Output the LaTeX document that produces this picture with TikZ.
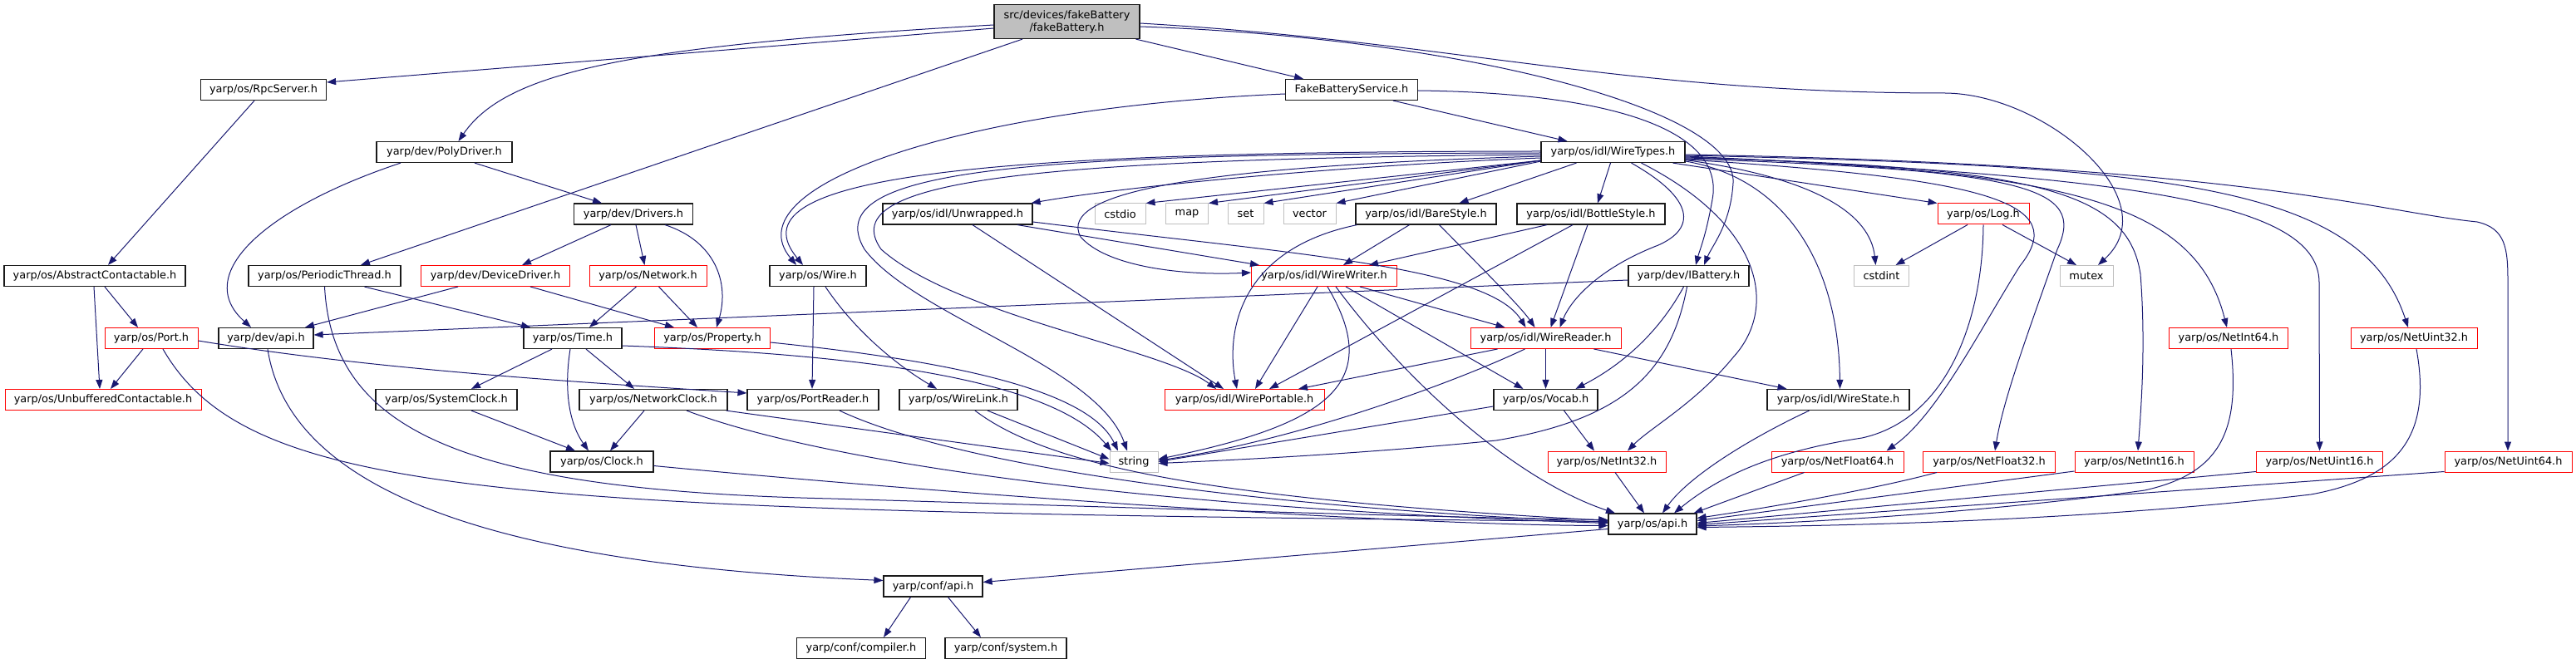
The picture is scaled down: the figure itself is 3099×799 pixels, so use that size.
\documentclass[tikz,border=0pt]{standalone}
\usepackage{fontspec}
\setmainfont{DejaVu Sans}
\usetikzlibrary{arrows.meta}
\definecolor{edgec}{HTML}{191970}
\definecolor{grayfill}{HTML}{BFBFBF}
\definecolor{sysborder}{HTML}{BFBFBF}
\definecolor{redborder}{HTML}{FF0000}
\definecolor{boxborder}{HTML}{1A1A1A}
\begin{document}
\begin{tikzpicture}[x=1pt,y=-1pt,
  box/.style={rectangle, inner sep=0pt, minimum height=25pt, fill=white, font=\fontsize{12.9pt}{15pt}\selectfont},
  nb/.style={box, draw=boxborder, line width=1.2pt},
  nr/.style={box, draw=redborder, line width=1pt},
  ng/.style={box, draw=sysborder, line width=1pt},
  e/.style={draw=edgec, line width=1pt, -{Triangle[length=11pt,width=8pt]}},
]
\useasboundingbox (0,0) rectangle (3099,799);

% ---------- nodes ----------
\node[nb, fill=grayfill, minimum width=175pt, minimum height=41pt, align=center] (fb) at (1283.5,26) {src/devices/fakeBattery\\/fakeBattery.h};
\node[nb, minimum width=151pt] (rpc) at (317,108) {yarp/os/RpcServer.h};
\node[nb, minimum width=159pt] (fbs) at (1626,108) {FakeBatteryService.h};
\node[nb, minimum width=163pt] (poly) at (534.5,183) {yarp/dev/PolyDriver.h};
\node[nb, minimum width=173pt] (wt) at (1940.5,183) {yarp/os/idl/WireTypes.h};
\node[nb, minimum width=143pt] (drv) at (762,257.5) {yarp/dev/Drivers.h};
\node[nb, minimum width=180pt] (unw) at (1152,257.5) {yarp/os/idl/Unwrapped.h};
\node[ng, minimum width=61pt] (cstdio) at (1347.5,257.5) {cstdio};
\node[ng, minimum width=51pt] (nmap) at (1428,257.5) {map};
\node[ng, minimum width=43pt] (nset) at (1498.5,257.5) {set};
\node[ng, minimum width=63pt] (nvector) at (1575.5,257.5) {vector};
\node[nb, minimum width=169pt] (bare) at (1715.5,257.5) {yarp/os/idl/BareStyle.h};
\node[nb, minimum width=178pt] (bottle) at (1914,257.5) {yarp/os/idl/BottleStyle.h};
\node[nr, minimum width=110pt] (log) at (2386,257.5) {yarp/os/Log.h};
\node[nb, minimum width=218pt] (abs) at (114,332) {yarp/os/AbstractContactable.h};
\node[nb, minimum width=183pt] (per) at (390.5,332) {yarp/os/PeriodicThread.h};
\node[nr, minimum width=179pt] (dd) at (596,332) {yarp/dev/DeviceDriver.h};
\node[nr, minimum width=141pt] (net) at (779.5,332) {yarp/os/Network.h};
\node[nb, minimum width=116pt] (wire) at (984,332) {yarp/os/Wire.h};
\node[nr, minimum width=175pt] (ww) at (1593,332) {yarp/os/idl/WireWriter.h};
\node[nb, minimum width=145pt] (ibat) at (2031.5,332) {yarp/dev/IBattery.h};
\node[ng, minimum width=66pt] (cstdint) at (2263.5,332) {cstdint};
\node[ng, minimum width=64pt] (nmutex) at (2510,332) {mutex};
\node[nr, minimum width=112pt] (port) at (182,407) {yarp/os/Port.h};
\node[nb, minimum width=114pt] (devapi) at (320,407) {yarp/dev/api.h};
\node[nb, minimum width=118pt] (time) at (689,407) {yarp/os/Time.h};
\node[nr, minimum width=139pt] (prop) at (857,407) {yarp/os/Property.h};
\node[nr, minimum width=181pt] (wr) at (1859.5,407) {yarp/os/idl/WireReader.h};
\node[nr, minimum width=143pt] (ni64) at (2681,407) {yarp/os/NetInt64.h};
\node[nr, minimum width=152pt] (nu32) at (2904,407) {yarp/os/NetUint32.h};
\node[nr, minimum width=236pt] (unb) at (124,481) {yarp/os/UnbufferedContactable.h};
\node[nb, minimum width=170pt] (sysclk) at (537,481) {yarp/os/SystemClock.h};
\node[nb, minimum width=178pt] (netclk) at (786,481) {yarp/os/NetworkClock.h};
\node[nb, minimum width=158pt] (pr) at (978,481) {yarp/os/PortReader.h};
\node[nb, minimum width=142pt] (wl) at (1153,481) {yarp/os/WireLink.h};
\node[nr, minimum width=192pt] (wp) at (1497,481) {yarp/os/idl/WirePortable.h};
\node[nb, minimum width=125pt] (vocab) at (1859.5,481) {yarp/os/Vocab.h};
\node[nb, minimum width=171pt] (ws) at (2211.5,481) {yarp/os/idl/WireState.h};
\node[nb, minimum width=124pt] (clock) at (724,555.5) {yarp/os/Clock.h};
\node[ng, minimum width=58pt] (str) at (1364,555.5) {string};
\node[nr, minimum width=142pt] (ni32) at (1933,555.5) {yarp/os/NetInt32.h};
\node[nr, minimum width=159pt] (nf64) at (2210.5,555.5) {yarp/os/NetFloat64.h};
\node[nr, minimum width=159pt] (nf32) at (2393,555.5) {yarp/os/NetFloat32.h};
\node[nr, minimum width=143pt] (ni16) at (2567.5,555.5) {yarp/os/NetInt16.h};
\node[nr, minimum width=152pt] (nu16) at (2790.5,555.5) {yarp/os/NetUint16.h};
\node[nr, minimum width=153pt] (nu64) at (3017.5,555.5) {yarp/os/NetUint64.h};
\node[nb, minimum width=106pt] (osapi) at (1988,630.5) {yarp/os/api.h};
\node[nb, minimum width=119pt] (confapi) at (1122.5,705.5) {yarp/conf/api.h};
\node[nb, minimum width=155pt] (comp) at (1036,780) {yarp/conf/compiler.h};
\node[nb, minimum width=146pt] (sys) at (1210,780) {yarp/conf/system.h};

% ---------- edges ----------
% fakeBattery.h
\draw[e] ([yshift=-8pt]fb.west) -- ([yshift=9pt]rpc.east);
\draw[e] ([yshift=-4pt]fb.west) .. controls (760,55) and (610,85) .. ([xshift=17pt]poly.north);
\draw[e] ([xshift=-53.5pt]fb.south) -- ([xshift=43.5pt]per.north);
\draw[e] ([xshift=83pt]fb.south) -- ([xshift=-58pt]fbs.north);
\draw[e] ([yshift=-6pt]fb.east) .. controls (1750,45) and (2090,130) .. (2085,220) .. controls (2082,270) and (2060,295) .. ([xshift=18.5pt]ibat.north);
\draw[e] ([yshift=-2pt]fb.east) .. controls (1750,50) and (1950,112) .. (2340,112) .. controls (2460,113) and (2610,240) .. ([xshift=14pt]nmutex.north);
% FakeBatteryService.h
\draw[e] ([xshift=50pt]fbs.south) -- ([xshift=-55pt]wt.north);
\draw[e] ([yshift=-5pt]fbs.west) .. controls (1150,130) and (880,225) .. ([xshift=-26pt]wire.north);
\draw[e] ([yshift=-1pt]fbs.east) .. controls (1950,112) and (2075,160) .. (2060,240) .. controls (2052,285) and (2045,300) .. ([xshift=8.5pt]ibat.north);
% PolyDriver.h
\draw[e] ([xshift=36.5pt]poly.south) -- ([xshift=-38pt]drv.north);
\draw[e] ([xshift=-52.5pt]poly.south) .. controls (320,250) and (230,330) .. ([xshift=-18pt]devapi.north);
% RpcServer.h
\draw[e] ([xshift=-11pt]rpc.south) -- ([xshift=16pt]abs.north);
% Drivers.h
\draw[e] ([xshift=-27pt]drv.south) -- ([xshift=32pt]dd.north);
\draw[e] ([xshift=3pt]drv.south) -- ([xshift=-4pt]net.north);
\draw[e] ([xshift=38pt]drv.south) .. controls (860,290) and (878,340) .. ([xshift=5pt]prop.north);
% AbstractContactable.h
\draw[e] ([xshift=12pt]abs.south) -- ([xshift=-16pt]port.north);
\draw[e] ([xshift=-1pt]abs.south) -- ([xshift=-4pt]unb.north);
% Port.h
\draw[e] ([xshift=-10pt]port.south) -- ([xshift=9pt]unb.north);
\draw[e] ([yshift=-3pt]port.east) .. controls (450,445) and (700,460) .. ([yshift=8pt]pr.west);
\draw[e] ([xshift=14pt]port.south) .. controls (300,600) and (600,615) .. ([yshift=3pt]osapi.west);
% dev/api.h
\draw[e] ([xshift=2pt]devapi.south) .. controls (350,600) and (620,680) .. ([yshift=7pt]confapi.west);
% PeriodicThread.h
\draw[e] ([xshift=48pt]per.south) -- ([xshift=-51pt]time.north);
\draw[e] (per.south) .. controls (400,520) and (560,590) .. (1000,600) .. controls (1400,612) and (1700,622) .. ([yshift=5pt]osapi.west);
% DeviceDriver.h
\draw[e] ([xshift=-45pt]dd.south) -- ([xshift=47pt]devapi.north);
\draw[e] ([xshift=42pt]dd.south) -- ([xshift=-46pt]prop.north);
% Network.h
\draw[e] ([xshift=-14pt]net.south) -- ([xshift=20pt]time.north);
\draw[e] ([xshift=13pt]net.south) -- ([xshift=-18pt]prop.north);
% Time.h
\draw[e] ([xshift=-25pt]time.south) -- ([xshift=30pt]sysclk.north);
\draw[e] ([xshift=-3pt]time.south) .. controls (678,470) and (685,510) .. ([xshift=-16pt]clock.north);
\draw[e] ([xshift=16pt]time.south) -- ([xshift=-23pt]netclk.north);
\draw[e] ([yshift=-9pt]time.east) .. controls (1000,425) and (1260,450) .. ([xshift=-27pt]str.north);
% Property.h
\draw[e] ([yshift=-5pt]prop.east) .. controls (1150,435) and (1310,470) .. ([xshift=-19pt]str.north);
% SystemClock.h / NetworkClock.h / Clock.h
\draw[e] ([xshift=30pt]sysclk.south) -- ([xshift=-32pt]clock.north);
\draw[e] ([xshift=-11pt]netclk.south) -- ([xshift=10pt]clock.north);
\draw[e] ([xshift=-2pt]netclk.south east) -- ([yshift=-2pt]str.west);
\draw[e] ([xshift=40pt]netclk.south) .. controls (1000,560) and (1400,612) .. ([yshift=1pt]osapi.west);
\draw[e] ([yshift=-5pt]clock.east) .. controls (1200,600) and (1700,632) .. ([yshift=-2pt]osapi.west);
% PortReader.h / WireLink.h / Wire.h
\draw[e] ([xshift=32pt]pr.south) .. controls (1150,560) and (1500,610) .. ([yshift=2pt]osapi.west);
\draw[e] ([xshift=20pt]wl.south) .. controls (1260,560) and (1450,600) .. ([yshift=4pt]osapi.west);
\draw[e] ([xshift=35pt]wl.south) -- ([yshift=3pt]str.west);
\draw[e] ([xshift=-5pt]wire.south) -- ([xshift=-1pt]pr.north);
\draw[e] ([xshift=9pt]wire.south) .. controls (1030,400) and (1080,440) .. ([xshift=-26pt]wl.north);
% IBattery.h
\draw[e] ([yshift=-5pt]ibat.west) -- ([yshift=4pt]devapi.east);
\draw[e] ([xshift=-6pt]ibat.south) .. controls (1990,410) and (1940,445) .. ([xshift=36pt]vocab.north);
\draw[e] ([xshift=-2pt]ibat.south) .. controls (2010,450) and (1950,505) .. (1800,530) .. controls (1650,545) and (1500,553) .. ([yshift=-2pt]str.east);
% WireWriter.h
\draw[e] ([xshift=43pt]ww.south) -- ([xshift=-49pt]wr.north);
\draw[e] ([xshift=-8pt]ww.south) -- ([xshift=13pt]wp.north);
\draw[e] ([xshift=4pt]ww.south) .. controls (1665,460) and (1600,510) .. ([yshift=3pt]str.east);
\draw[e] ([xshift=26pt]ww.south) -- ([xshift=-27pt]vocab.north);
\draw[e] ([xshift=14pt]ww.south) .. controls (1700,470) and (1830,580) .. ([xshift=-45pt]osapi.north);
% WireReader.h
\draw[e] (wr.south) -- (vocab.north);
\draw[e] ([xshift=58pt]wr.south) -- ([xshift=-62pt]ws.north);
\draw[e] ([xshift=-25pt]wr.south) .. controls (1750,460) and (1560,530) .. ([yshift=1.5pt]str.east);
\draw[e] ([xshift=-58pt]wr.south) -- ([xshift=65pt]wp.north);
% Vocab.h
\draw[e] ([yshift=-8pt]vocab.west) -- (str.east);
\draw[e] ([xshift=22pt]vocab.south) -- ([xshift=-15pt]ni32.north);
% WireState.h / NetInt32.h
\draw[e] ([xshift=-35pt]ws.south) .. controls (2100,530) and (2030,575) .. ([xshift=12pt]osapi.north);
\draw[e] ([xshift=10pt]ni32.south) -- ([xshift=-10pt]osapi.north);
% Log.h
\draw[e] ([xshift=-19pt]log.south) -- ([xshift=17pt]cstdint.north);
\draw[e] ([xshift=23pt]log.south) -- ([xshift=-12pt]nmutex.north);
\draw[e] (log.south) .. controls (2385,390) and (2340,505) .. (2240,527) .. controls (2120,545) and (2060,580) .. ([xshift=26pt]osapi.north);
% Net*.h
\draw[e] ([xshift=-40pt]nf64.south) -- ([xshift=-4pt]osapi.north east);
\draw[e] ([xshift=-63pt]nf32.south) .. controls (2250,590) and (2120,612) .. ([yshift=7pt]osapi.east);
\draw[e] ([yshift=1.5pt]ni16.south west) -- ([yshift=4pt]osapi.east);
\draw[e] ([yshift=1pt]nu16.south west) -- ([yshift=1pt]osapi.east);
\draw[e] ([yshift=1pt]nu64.south west) -- ([yshift=-1pt]osapi.east);
\draw[e] ([xshift=3pt]ni64.south) .. controls (2695,520) and (2670,570) .. (2580,590) .. controls (2400,615) and (2200,628) .. ([yshift=-2.5pt]osapi.east);
\draw[e] ([xshift=3pt]nu32.south) .. controls (2925,520) and (2890,575) .. (2780,595) .. controls (2500,628) and (2200,633) .. ([yshift=-4pt]osapi.east);
% os/api.h, conf/api.h
\draw[e] ([yshift=-6pt]osapi.west) -- ([yshift=5pt]confapi.east);
\draw[e] ([xshift=-27pt]confapi.south) -- ([xshift=27pt]comp.north);
\draw[e] ([xshift=18pt]confapi.south) -- ([xshift=-30pt]sys.north);
% WireTypes.h
\draw[e] ([yshift=1pt]wt.west) .. controls (1150,182) and (880,215) .. ([xshift=-18pt]wire.north);
\draw[e] ([yshift=-1pt]wt.west) .. controls (1250,185) and (980,200) .. (1040,300) .. controls (1100,380) and (1320,440) .. ([xshift=-8pt]str.north);
\draw[e] ([yshift=-3pt]wt.west) .. controls (1250,192) and (1000,215) .. (1060,300) .. controls (1150,380) and (1400,420) .. ([xshift=-34pt]wp.north);
\draw[e] ([yshift=-5pt]wt.west) .. controls (1450,200) and (1270,230) .. (1300,285) .. controls (1330,320) and (1420,332) .. ([yshift=4pt]ww.west);
\draw[e] ([yshift=-7pt]wt.west) .. controls (1600,200) and (1350,225) .. ([xshift=-2pt]unw.north east);
\draw[e] ([yshift=3pt]wt.south west) -- (cstdio.north east);
\draw[e] ([yshift=3pt]wt.south west) -- (nmap.north east);
\draw[e] ([yshift=3pt]wt.south west) -- (nset.north east);
\draw[e] ([yshift=2pt]wt.south west) -- (nvector.north east);
\draw[e] ([xshift=-44pt]wt.south) -- ([xshift=40pt]bare.north);
\draw[e] ([xshift=-3pt]wt.south) -- ([xshift=8pt]bottle.north);
\draw[e] ([xshift=22pt]wt.south) .. controls (2040,240) and (2040,275) .. (1995,295) .. controls (1925,322) and (1890,360) .. ([xshift=17pt]wr.north);
\draw[e] ([xshift=34pt]wt.south) .. controls (2120,270) and (2140,370) .. (2085,430) .. controls (2040,485) and (1985,515) .. ([xshift=25pt]ni32.north);
\draw[e] ([xshift=72pt]wt.south) -- (log.north west);
\draw[e] ([yshift=-9.5pt]wt.east) .. controls (2190,215) and (2250,260) .. ([xshift=-7pt]cstdint.north);
\draw[e] ([yshift=-11pt]wt.east) .. controls (2150,215) and (2212,320) .. ([xshift=2pt]ws.north);
\draw[e] ([yshift=-9pt]wt.east) .. controls (2400,215) and (2490,245) .. (2430,320) .. controls (2380,400) and (2330,500) .. ([xshift=59pt]nf64.north);
\draw[e] ([yshift=-8pt]wt.east) .. controls (2440,205) and (2510,225) .. (2475,300) .. controls (2440,400) and (2410,480) .. ([xshift=7pt]nf32.north);
\draw[e] ([yshift=-7pt]wt.east) .. controls (2450,200) and (2560,230) .. (2575,330) .. controls (2582,420) and (2575,500) .. ([xshift=4.5pt]ni16.north);
\draw[e] ([yshift=-6pt]wt.east) .. controls (2480,205) and (2640,240) .. ([xshift=-2pt]ni64.north);
\draw[e] ([yshift=-5pt]wt.east) .. controls (2550,212) and (2790,240) .. (2790,340) -- (nu16.north);
\draw[e] ([yshift=-4pt]wt.east) .. controls (2600,200) and (2840,220) .. ([xshift=-7pt]nu32.north);
\draw[e] ([yshift=-3pt]wt.east) .. controls (2700,198) and (2860,255) .. (2980,267) .. controls (3015,275) and (3017,300) .. (3017,340) -- ([xshift=-0.5pt]nu64.north);
% Unwrapped.h
\draw[e] ([xshift=72pt]unw.south) -- ([xshift=-78pt]ww.north);
\draw[e] ([yshift=-9.5pt]unw.east) .. controls (1550,305) and (1790,320) .. ([xshift=-24pt]wr.north);
\draw[e] ([xshift=18pt]unw.south) -- ([xshift=-25pt]wp.north);
% BareStyle.h
\draw[e] ([xshift=-20pt]bare.south) -- ([xshift=23pt]ww.north);
\draw[e] ([xshift=16pt]bare.south) .. controls (1790,330) and (1830,370) .. ([xshift=-13pt]wr.north);
\draw[e] ([xshift=-83pt]bare.south) .. controls (1490,300) and (1475,400) .. ([xshift=-9pt]wp.north);
% BottleStyle.h
\draw[e] ([xshift=-53pt]bottle.south) -- ([xshift=54pt]ww.north);
\draw[e] ([xshift=-4pt]bottle.south) -- ([xshift=6pt]wr.north);
\draw[e] ([xshift=-22pt]bottle.south) -- ([xshift=30pt]wp.north);
\end{tikzpicture}
\end{document}
